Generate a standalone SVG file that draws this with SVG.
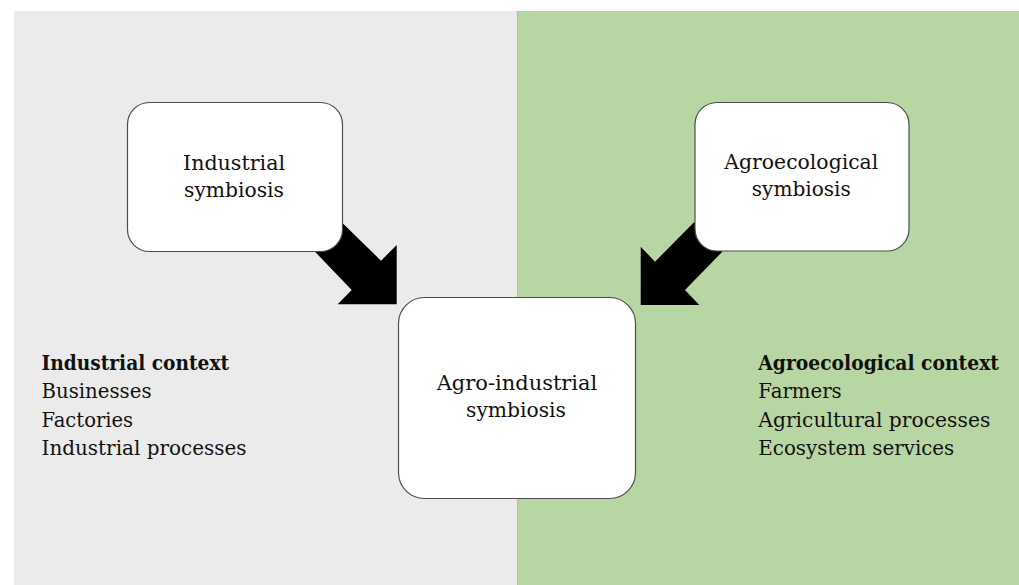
<svg xmlns="http://www.w3.org/2000/svg" width="1019" height="585" viewBox="0 0 1019 585">
<style>
.box{fill:#ffffff;stroke:#4d4d4d;stroke-width:1.2}
.t{font-family:"DejaVu Serif","Liberation Serif",serif;fill:#111;}
.bt{font-size:21px;text-anchor:middle}
.st{font-size:19.5px}
.b{font-weight:bold}
.arrow{fill:#000}
</style>
<rect x="0" y="0" width="1019" height="585" fill="#ffffff"/>
<rect x="14" y="11" width="503" height="574" fill="#ebebeb"/>
<rect x="517" y="11" width="502" height="574" fill="#b8d6a3"/>
<line x1="517.5" y1="11" x2="517.5" y2="585" stroke="#a9c994" stroke-width="1"/>
<g id="connectors">
<polygon class="arrow" points="341.7,222.3 381,260.7 396.7,245 396.7,304.3 337.7,304.3 351.7,290 314,250.7"/>
<polygon class="arrow" points="694,222.3 722.3,251.7 685,290 699.3,305 640.7,305 640.7,246.7 655,261.7"/>
</g>
<g id="industrial-symbiosis">
<rect class="box" x="127.5" y="102.5" width="215" height="149" rx="22"/>
<text class="t bt" x="234" y="170" textLength="102" lengthAdjust="spacingAndGlyphs">Industrial</text>
<text class="t bt" x="234" y="196.5" textLength="100" lengthAdjust="spacingAndGlyphs">symbiosis</text>
</g>
<g id="agroecological-symbiosis">
<rect class="box" x="695" y="102.5" width="214" height="148.5" rx="22"/>
<text class="t bt" x="801.3" y="169" textLength="154" lengthAdjust="spacingAndGlyphs">Agroecological</text>
<text class="t bt" x="801.3" y="195.7" textLength="99" lengthAdjust="spacingAndGlyphs">symbiosis</text>
</g>
<g id="agro-industrial-symbiosis">
<rect class="box" x="398.5" y="297.5" width="237" height="201" rx="26"/>
<text class="t bt" x="517" y="390" textLength="160.6" lengthAdjust="spacingAndGlyphs">Agro-industrial</text>
<text class="t bt" x="516" y="416.7" textLength="100" lengthAdjust="spacingAndGlyphs">symbiosis</text>
</g>
<g id="industrial-context">
<text class="t st b" x="41.5" y="370" textLength="187.6" lengthAdjust="spacingAndGlyphs">Industrial context</text>
<text class="t st" x="41.5" y="398.3" textLength="110" lengthAdjust="spacingAndGlyphs">Businesses</text>
<text class="t st" x="41.5" y="426.7" textLength="91.6" lengthAdjust="spacingAndGlyphs">Factories</text>
<text class="t st" x="41.5" y="455" textLength="205" lengthAdjust="spacingAndGlyphs">Industrial processes</text>
</g>
<g id="agroecological-context">
<text class="t st b" x="758.3" y="370" textLength="240.7" lengthAdjust="spacingAndGlyphs">Agroecological context</text>
<text class="t st" x="758.3" y="398.3" textLength="83.4" lengthAdjust="spacingAndGlyphs">Farmers</text>
<text class="t st" x="758.3" y="426.7" textLength="232" lengthAdjust="spacingAndGlyphs">Agricultural processes</text>
<text class="t st" x="758.3" y="455" textLength="196" lengthAdjust="spacingAndGlyphs">Ecosystem services</text>
</g>
</svg>
